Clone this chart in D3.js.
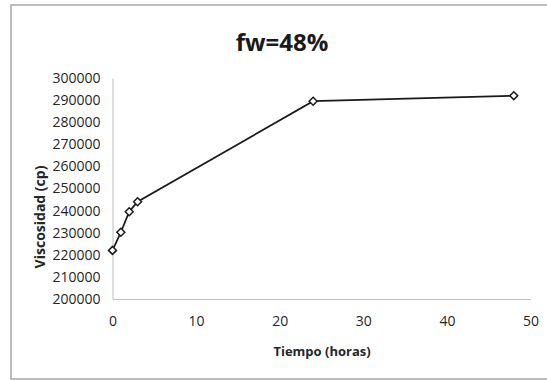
<!DOCTYPE html>
<html>
<head>
<meta charset="utf-8">
<script src="https://cdn.jsdelivr.net/npm/d3@7"></script>
<style>
  html, body { margin: 0; padding: 0; background: #fff; }
  svg { display: block; }
</style>
</head>
<body>
<svg id="chart" width="547" height="380"></svg>
<script>
// Viscosity measured over time
const tiempo = [0, 1, 2, 3, 24, 48];
const viscosidad = [222000, 230200, 239500, 244000, 289500, 292000];
const xTicks = [0, 10, 20, 30, 40, 50];
const yTicks = [200000, 210000, 220000, 230000, 240000, 250000, 260000, 270000, 280000, 290000, 300000];
const titulo = "fw=48%";
const xTitulo = "Tiempo (horas)";
const yTitulo = "Viscosidad (cp)";

const svg = d3.select("#chart");
const font = "'Open Sans', 'Noto Sans', sans-serif";

// chart frame (right edge runs past the canvas)
svg.append("rect")
  .attr("x", 11).attr("y", 5)
  .attr("width", 620).attr("height", 374)
  .attr("fill", "#fff")
  .attr("stroke", "#a6a6a6").attr("stroke-width", 1.5);

const x = d3.scaleLinear().domain([0, 50]).range([112.5, 530.5]);
const y = d3.scaleLinear().domain([200000, 300000]).range([299, 78]);

// axes
const xAxis = svg.append("g")
  .attr("transform", `translate(0,${y(200000)})`)
  .call(d3.axisBottom(x).tickValues(xTicks).tickSize(0).tickPadding(17));
const yAxis = svg.append("g")
  .attr("transform", `translate(${x(0)},0)`)
  .call(d3.axisLeft(y).tickValues(yTicks).tickSize(0).tickPadding(12).tickFormat(d3.format("d")));

[xAxis, yAxis].forEach(g => {
  g.select(".domain").attr("stroke", "#bfbfbf").attr("stroke-width", 1);
  g.selectAll("text")
    .attr("font-family", font)
    .attr("font-size", 14)
    .attr("fill", "#262626");
});

// series line
svg.append("path")
  .datum(tiempo.map((t, i) => [t, viscosidad[i]]))
  .attr("fill", "none")
  .attr("stroke", "#1a1a1a")
  .attr("stroke-width", 1.8)
  .attr("d", d3.line().x(d => x(d[0])).y(d => y(d[1])));

// diamond markers
svg.selectAll(".pt")
  .data(tiempo.map((t, i) => [t, viscosidad[i]]))
  .join("path")
  .attr("class", "pt")
  .attr("transform", d => `translate(${x(d[0])},${y(d[1])})`)
  .attr("d", d3.symbol().type(d3.symbolDiamond2).size(40))
  .attr("fill", "#fff")
  .attr("stroke", "#1a1a1a")
  .attr("stroke-width", 1.5);

// titles
svg.append("text")
  .attr("x", 282).attr("y", 51)
  .attr("text-anchor", "middle")
  .attr("font-family", font)
  .attr("font-weight", "bold")
  .attr("font-size", 24)
  .attr("fill", "#1a1a1a")
  .text(titulo);

svg.append("text")
  .attr("x", 322).attr("y", 356)
  .attr("text-anchor", "middle")
  .attr("font-family", font)
  .attr("font-weight", "bold")
  .attr("font-size", 13)
  .attr("fill", "#262626")
  .text(xTitulo);

svg.append("text")
  .attr("transform", "translate(45,217) rotate(-90)")
  .attr("text-anchor", "middle")
  .attr("font-family", font)
  .attr("font-weight", "bold")
  .attr("font-size", 14)
  .attr("fill", "#262626")
  .text(yTitulo);
</script>
</body>
</html>
